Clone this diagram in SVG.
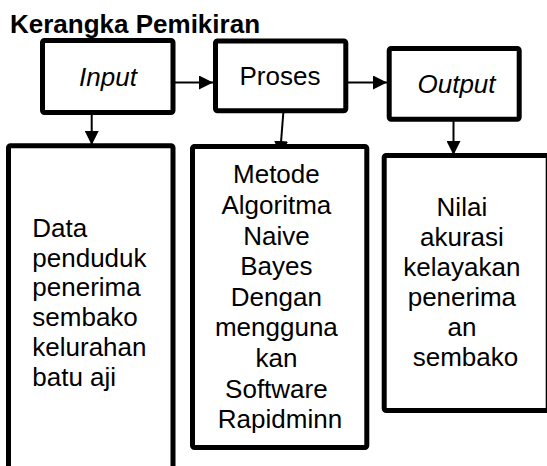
<svg xmlns="http://www.w3.org/2000/svg" width="547" height="466" viewBox="0 0 547 466">
<style>
.box{fill:#fff;stroke:#000;stroke-width:5;stroke-linejoin:round}
.t{font-family:"Liberation Sans",Arial,sans-serif;font-size:26px;fill:#000}
.c{text-anchor:middle}
.i{font-style:italic}
.conn{stroke:#000;stroke-width:2;fill:none}
</style>
<defs>
<marker id="ah" markerUnits="userSpaceOnUse" markerWidth="14" markerHeight="14" refX="14" refY="7" orient="auto">
<path d="M0,0 L14,7 L0,14 z" fill="#000"/>
</marker>
</defs>
<rect width="547" height="466" fill="#fff"/>
<text x="10" y="33" class="t" font-weight="bold">Kerangka Pemikiran</text>
<g id="connectors">
<line class="conn" x1="175" y1="82.5" x2="213" y2="82.5" marker-end="url(#ah)"/>
<line class="conn" x1="348" y1="82.5" x2="387" y2="82.5" marker-end="url(#ah)"/>
<line class="conn" x1="91.7" y1="115" x2="91.7" y2="145" marker-end="url(#ah)"/>
<line class="conn" x1="283.3" y1="113" x2="280" y2="155" marker-end="url(#ah)"/>
<line class="conn" x1="453.5" y1="121" x2="453.5" y2="155" marker-end="url(#ah)"/>
</g>
<g id="input">
<rect class="box" x="42.5" y="40.5" width="130.5" height="72" rx="2"/>
<text x="108" y="86" class="t c i">Input</text>
</g>
<g id="proses">
<rect class="box" x="215.5" y="41" width="130.3" height="69.8" rx="2"/>
<text x="280" y="85" class="t c">Proses</text>
</g>
<g id="output">
<rect class="box" x="389.2" y="48.5" width="130" height="70.7" rx="2"/>
<text x="456.5" y="93" class="t c i">Output</text>
</g>
<g id="data">
<rect class="box" x="8.5" y="145.8" width="164.5" height="330" rx="2"/>
<text class="t" x="32.3">
<tspan x="32.3" y="236.7">Data</tspan>
<tspan x="32.3" y="266.5">penduduk</tspan>
<tspan x="32.3" y="296.3">penerima</tspan>
<tspan x="32.3" y="326.1">sembako</tspan>
<tspan x="32.3" y="355.9">kelurahan</tspan>
<tspan x="32.3" y="385.7">batu aji</tspan>
</text>
</g>
<g id="metode">
<rect class="box" x="192.5" y="146.5" width="174.3" height="301" rx="2"/>
<text class="t c">
<tspan x="280" y="183.3">Metode</tspan>
<tspan x="280" y="213.9">Algoritma</tspan>
<tspan x="280" y="244.5">Naive</tspan>
<tspan x="280" y="275.1">Bayes</tspan>
<tspan x="280" y="305.7">Dengan</tspan>
<tspan x="280" y="336.3">mengguna</tspan>
<tspan x="280" y="366.9">kan</tspan>
<tspan x="280" y="397.5">Software</tspan>
<tspan x="280" y="428.1">Rapidminn</tspan>
</text>
</g>
<g id="nilai">
<rect class="box" x="384.2" y="155.5" width="164" height="255" rx="2"/>
<text class="t c">
<tspan x="465.5" y="216">Nilai</tspan>
<tspan x="465.5" y="246">akurasi</tspan>
<tspan x="465.5" y="276">kelayakan</tspan>
<tspan x="465.5" y="306">penerima</tspan>
<tspan x="465.5" y="336">an</tspan>
<tspan x="465.5" y="366">sembako</tspan>
</text>
</g>
</svg>
